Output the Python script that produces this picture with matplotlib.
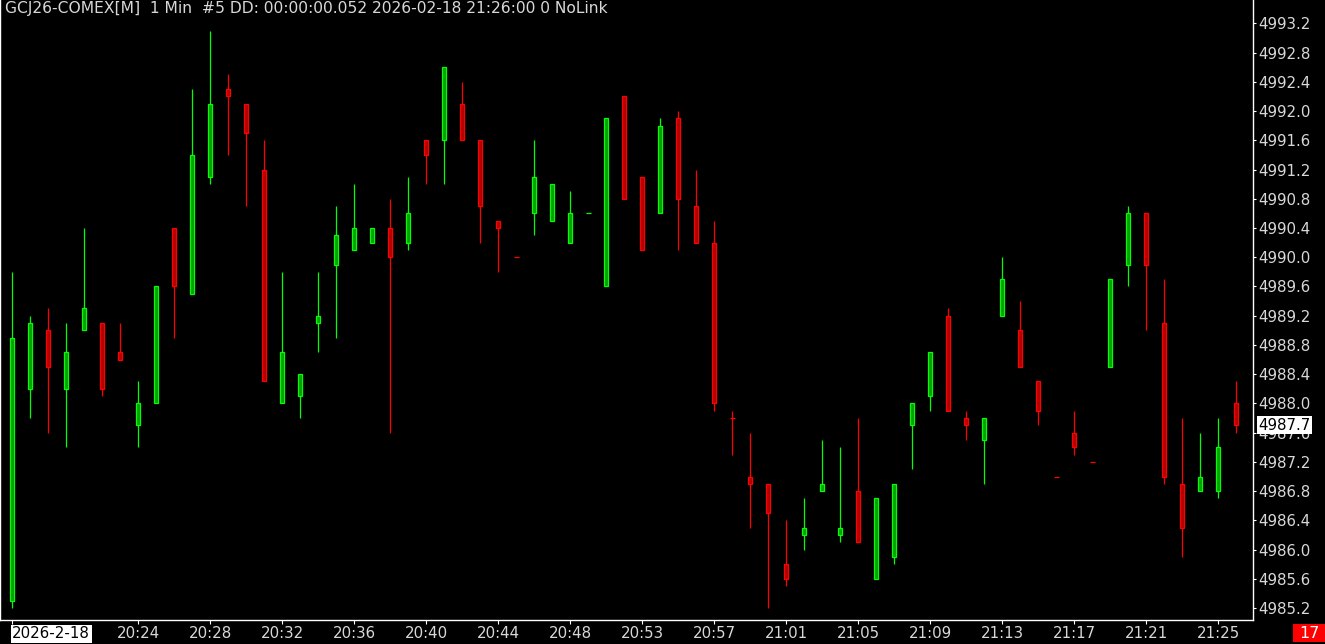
import numpy as np
import matplotlib
matplotlib.use("Agg")
import matplotlib.pyplot as plt
from matplotlib.patches import Rectangle

# 1 Min bars, GCJ26 COMEX, 2026-02-18 20:17 -> 21:26
opens = [4985.3, 4988.2, 4989.0, 4988.2, 4989.0, 4989.1, 4988.7, 4987.7, 4988.0, 4990.4,
         4989.5, 4991.1, 4992.3, 4992.1, 4991.2, 4988.0, 4988.1, 4989.1, 4989.9, 4990.1,
         4990.2, 4990.4, 4990.2, 4991.6, 4991.6, 4992.1, 4991.6, 4990.5, 4990.0, 4990.6,
         4990.5, 4990.2, 4990.6, 4989.6, 4992.2, 4991.1, 4990.6, 4991.9, 4990.7, 4990.2,
         4987.8, 4987.0, 4986.9, 4985.8, 4986.2, 4986.8, 4986.2, 4986.8, 4985.6, 4985.9,
         4987.7, 4988.1, 4989.2, 4987.8, 4987.5, 4989.2, 4989.0, 4988.3, 4987.0, 4987.6,
         4987.2, 4988.5, 4989.9, 4990.6, 4989.1, 4986.9, 4986.8, 4986.8, 4988.0]
highs = [4989.8, 4989.2, 4989.3, 4989.1, 4990.4, 4989.1, 4989.1, 4988.3, 4989.6, 4990.4,
         4992.3, 4993.1, 4992.5, 4992.1, 4991.6, 4989.8, 4988.4, 4989.8, 4990.7, 4991.0,
         4990.4, 4990.8, 4991.1, 4991.6, 4992.6, 4992.4, 4991.6, 4990.5, 4990.0, 4991.6,
         4991.0, 4990.9, 4990.6, 4991.9, 4992.2, 4991.1, 4991.9, 4992.0, 4991.2, 4990.5,
         4987.9, 4987.6, 4986.9, 4986.4, 4986.7, 4987.5, 4987.4, 4987.8, 4986.7, 4986.9,
         4988.0, 4988.7, 4989.3, 4987.9, 4987.8, 4990.0, 4989.4, 4988.3, 4987.0, 4987.9,
         4987.2, 4989.7, 4990.7, 4990.6, 4989.7, 4987.8, 4987.6, 4987.8, 4988.3]
lows = [4985.2, 4987.8, 4987.6, 4987.4, 4989.0, 4988.1, 4988.6, 4987.4, 4988.0, 4988.9,
        4989.5, 4991.0, 4991.4, 4990.7, 4988.3, 4988.0, 4987.8, 4988.7, 4988.9, 4990.1,
        4990.2, 4987.6, 4990.1, 4991.0, 4991.0, 4991.6, 4990.2, 4989.8, 4990.0, 4990.3,
        4990.5, 4990.2, 4990.6, 4989.6, 4990.8, 4990.1, 4990.6, 4990.1, 4990.2, 4987.9,
        4987.3, 4986.3, 4985.2, 4985.5, 4986.0, 4986.8, 4986.1, 4986.1, 4985.6, 4985.8,
        4987.1, 4987.9, 4987.9, 4987.5, 4986.9, 4989.2, 4988.5, 4987.7, 4987.0, 4987.3,
        4987.2, 4988.5, 4989.6, 4989.0, 4986.9, 4985.9, 4986.8, 4986.7, 4987.6]
closes = [4988.9, 4989.1, 4988.5, 4988.7, 4989.3, 4988.2, 4988.6, 4988.0, 4989.6, 4989.6,
          4991.4, 4992.1, 4992.2, 4991.7, 4988.3, 4988.7, 4988.4, 4989.2, 4990.3, 4990.4,
          4990.4, 4990.0, 4990.6, 4991.4, 4992.6, 4991.6, 4990.7, 4990.4, 4990.0, 4991.1,
          4991.0, 4990.6, 4990.6, 4991.9, 4990.8, 4990.1, 4991.8, 4990.8, 4990.2, 4988.0,
          4987.8, 4986.9, 4986.5, 4985.6, 4986.3, 4986.9, 4986.3, 4986.1, 4986.7, 4986.9,
          4988.0, 4988.7, 4987.9, 4987.7, 4987.8, 4989.7, 4988.5, 4987.9, 4987.0, 4987.4,
          4987.2, 4989.7, 4990.6, 4989.9, 4987.0, 4986.3, 4987.0, 4987.4, 4987.7]

tick_pos = [0, 7, 11, 15, 19, 23, 27, 31, 35, 39, 43, 47, 51, 55, 59, 63, 67]
tick_lab = ["2026-2-18", "20:24", "20:28", "20:32", "20:36", "20:40", "20:44", "20:48",
            "20:53", "20:57", "21:01", "21:05", "21:09", "21:13", "21:17", "21:21", "21:25"]
price_ticks = np.round(np.arange(4985.2, 4993.25, 0.4), 1)
last_price = 4987.7
countdown = "17"
title = "GCJ26-COMEX[M]  1 Min  #5 DD: 00:00:00.052 2026-02-18 21:26:00 0 NoLink"

UP_EDGE, UP_FILL = "#00ff00", "#00a000"
DN_EDGE, DN_FILL = "#ff0000", "#b00000"
TXT = "#d8d8d8"

o = np.array(opens); h = np.array(highs); l = np.array(lows); c = np.array(closes)
x = np.arange(len(o))
prev = np.r_[c[0], c[:-1]]
up = np.where(c != o, c > o, c >= prev)

fig = plt.figure(figsize=(13.25, 6.44), dpi=100, facecolor="black")
ax = fig.add_axes([0, 24 / 644, 1253 / 1325, 620 / 644], facecolor="black")

edge = np.where(up, UP_EDGE, DN_EDGE)
fill = np.where(up, UP_FILL, DN_FILL)

# wicks
ax.vlines(x, l, h, colors=edge, linewidth=0.9, zorder=2)
# bodies
body = c != o
ax.bar(x[body], np.abs(c - o)[body], bottom=np.minimum(o, c)[body], width=0.2,
       color=fill[body], edgecolor=edge[body], linewidth=0.9, zorder=3)
# doji
ax.hlines(c[~body], x[~body] - 0.13, x[~body] + 0.13, colors=edge[~body],
          linewidth=0.9, zorder=3)

ax.set_xlim(-0.683, 68.93)
ax.set_ylim(4985.037, 4993.519)

ax.yaxis.tick_right()
ax.set_yticks(price_ticks)
ax.set_yticklabels([f"{v:.1f}" for v in price_ticks])
ax.set_xticks(tick_pos)
ax.set_xticklabels(tick_lab)
ax.tick_params(axis="y", colors="white", labelcolor=TXT, labelsize=10.8,
               length=2, width=0.8, pad=2)
ax.tick_params(axis="x", colors="white", labelcolor=TXT, labelsize=10.8,
               length=3, width=0.8, pad=1.5)
lab0 = ax.get_xticklabels()[0]
lab0.set_horizontalalignment("left")
lab0.set_color("black")
lab0.set_bbox(dict(facecolor="white", edgecolor="none", pad=1))

ax.spines["top"].set_visible(False)
for s in ["right", "bottom", "left"]:
    ax.spines[s].set_color("white")
    ax.spines[s].set_linewidth(1.0)

ax.text(0.004, 0.998, title, transform=ax.transAxes, color=TXT, fontsize=11.2,
        ha="left", va="top")

# last price marker on the price scale
ax.annotate(f"{last_price:.1f}", xy=(1.0, last_price), xycoords=("axes fraction", "data"),
            xytext=(4, 0), textcoords="offset points", ha="left", va="center",
            fontsize=10.8, color="black", annotation_clip=False, zorder=5,
            bbox=dict(facecolor="white", edgecolor="none", pad=1.2))

# bar countdown box, bottom right
fig.patches.append(Rectangle((1293 / 1325, 2 / 644), 32 / 1325, 18 / 644,
                             transform=fig.transFigure, facecolor="#ff0000",
                             edgecolor="none"))
fig.text(1309 / 1325, 11 / 644, countdown, color="white", fontsize=11.5,
         ha="center", va="center")

fig.savefig("out.png", dpi=100, facecolor="black")
